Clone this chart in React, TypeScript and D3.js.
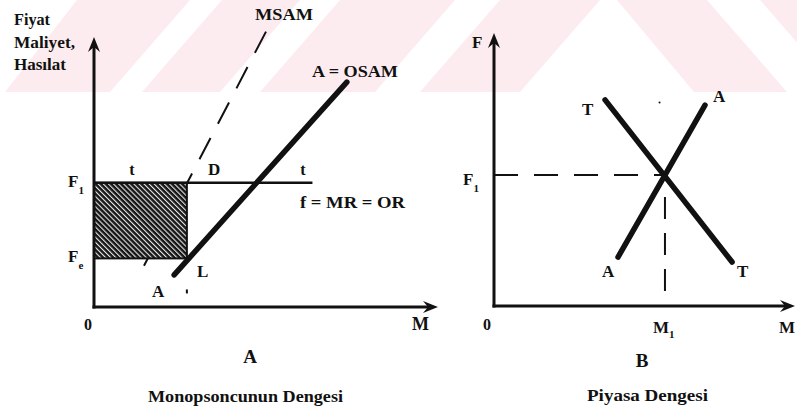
import React from "react";
import * as d3 from "d3";

// ---------- data (domain units 0..100 on each panel) ----------
// Panel A: Monopsoncunun Dengesi
const panelAPrices = [46, 18]; // F1, Fe
const panelAPriceLabels = ["1", "e"];
const panelAQuantity = [27]; // right edge of shaded area
const panelAWageLineEnd = [63.5]; // f = MR = OR horizontal end
const msamLine: [number, number][] = [
  [13.8, 13.5],
  [50, 102],
];
const osamLine: [number, number][] = [
  [23.3, 11.9],
  [73.5, 83.3],
];
// Panel B: Piyasa Dengesi
const demandLine: [number, number][] = [
  [36.9, 75.5],
  [79.1, 16.1],
];
const supplyLine: [number, number][] = [
  [41.2, 17.9],
  [70.1, 73.6],
];
const equilibriumB = [56.8, 48]; // M1, F1
const yAxisTitle = ["Fiyat", "Maliyet,", "Hasılat"];
const captions = ["Monopsoncunun Dengesi", "Piyasa Dengesi"];

const W = 797;
const H = 411;
const FONT = "'Liberation Serif', 'Times New Roman', serif";
const INK = "#111";

const xA = d3.scaleLinear().domain([0, 100]).range([94, 438]);
const yA = d3.scaleLinear().domain([0, 100]).range([307, 37]);
const xB = d3.scaleLinear().domain([0, 100]).range([494, 795]);
const yB = d3.scaleLinear().domain([0, 100]).range([306, 33]);

function arrowUp(x: number, y: number) {
  return `M${x},${y} L${x - 6},${y + 15} L${x},${y + 10} L${x + 6},${y + 15} Z`;
}
function arrowRight(x: number, y: number) {
  return `M${x},${y} L${x - 15},${y - 6} L${x - 10},${y} L${x - 15},${y + 6} Z`;
}

// watermark stripes (background decoration)
const wmTop = 92;
const wmWhite: [number, number, number, number][] = [
  // topLeft, topRight, bottomLeft, bottomRight
  [-10, 77, -90, 5],
  [190, 222, 110, 142],
  [300, 340, 220, 260],
  [455, 500, 375, 420],
  [600, 617, 520, 694],
  [707, 760, 787, 840],
];

export default function App() {
  const lineA = d3
    .line<[number, number]>()
    .x((d) => xA(d[0]))
    .y((d) => yA(d[1]));
  const lineB = d3
    .line<[number, number]>()
    .x((d) => xB(d[0]))
    .y((d) => yB(d[1]));

  const [f1, fe] = panelAPrices;
  const q = panelAQuantity[0];
  const [m1, pf1] = equilibriumB;

  const txt = (
    x: number,
    y: number,
    s: string,
    size = 17,
    anchor: "start" | "middle" | "end" = "start",
    len?: number
  ) => (
    <text
      x={x}
      y={y}
      fontFamily={FONT}
      fontWeight="bold"
      fontSize={size}
      fill={INK}
      textAnchor={anchor}
      {...(len ? { textLength: len, lengthAdjust: "spacingAndGlyphs" } : {})}
    >
      {s}
    </text>
  );

  return (
    <svg
      width={W}
      height={H}
      viewBox={`0 0 ${W} ${H}`}
      style={{ position: "absolute", left: 0, top: 0, background: "#fff" }}
    >
      <defs>
        <pattern
          id="hatch"
          width="3.6"
          height="3.6"
          patternUnits="userSpaceOnUse"
          patternTransform="rotate(-45)"
        >
          <rect width="3.6" height="3.6" fill="#161616" />
          <rect x="0" y="0" width="1.1" height="3.6" fill="#e8e8e8" />
        </pattern>
      </defs>

      {/* watermark */}
      <rect x={0} y={0} width={W} height={wmTop} fill="#fdecef" />
      {wmWhite.map((g, i) => (
        <polygon
          key={i}
          points={`${g[0]},0 ${g[1]},0 ${g[3]},${wmTop} ${g[2]},${wmTop}`}
          fill="#fff"
        />
      ))}

      {/* ---------- Panel A ---------- */}
      {/* MSAM dashed */}
      <path
        d={lineA([msamLine[1], msamLine[0]]) || ""}
        stroke={INK}
        strokeWidth={2}
        strokeDasharray="24 16"
        fill="none"
      />
      {/* shaded rectangle */}
      <rect
        x={xA(0)}
        y={yA(f1)}
        width={xA(q) - xA(0)}
        height={yA(fe) - yA(f1)}
        fill="url(#hatch)"
        stroke={INK}
        strokeWidth={2}
      />
      {/* f = MR = OR line */}
      <line
        x1={xA(0)}
        x2={xA(panelAWageLineEnd[0])}
        y1={yA(f1)}
        y2={yA(f1)}
        stroke={INK}
        strokeWidth={2.5}
      />
      {/* OSAM */}
      <path
        d={lineA(osamLine) || ""}
        stroke={INK}
        strokeWidth={5.5}
        strokeLinecap="round"
        fill="none"
      />
      {/* small mark under L */}
      <rect x={xA(q) - 1} y={yA(6.5)} width={2} height={4} fill={INK} />
      {/* axes */}
      <line x1={xA(0)} x2={xA(0)} y1={yA(0) + 1.5} y2={yA(100) + 6} stroke={INK} strokeWidth={3} />
      <path d={arrowUp(xA(0), yA(100))} fill={INK} />
      <line x1={xA(0) - 1.5} x2={xA(100) - 6} y1={yA(0)} y2={yA(0)} stroke={INK} strokeWidth={3} />
      <path d={arrowRight(xA(100), yA(0))} fill={INK} />

      {/* Panel A labels */}
      {yAxisTitle.map((s, i) =>
        <React.Fragment key={s}>{txt(14, 25 + i * 22.5, s, 16, "start", [36, 61, 52][i])}</React.Fragment>
      )}
      {txt(255, 20, "MSAM", 17, "start", 58)}
      {txt(312, 77, "A = OSAM", 16, "start", 86)}
      {txt(300, 208, "f = MR = OR", 16, "start", 105)}
      {txt(132, 175, "t", 16, "middle")}
      {txt(303, 175, "t", 16, "middle")}
      {txt(208, 175, "D", 17)}
      {txt(197, 277, "L", 17)}
      {txt(152, 297, "A", 17)}
      {panelAPrices.map((p, i) => (
        <text
          key={i}
          x={68}
          y={yA(p) + 4}
          fontFamily={FONT}
          fontWeight="bold"
          fontSize={17}
          fill={INK}
        >
          F
          <tspan fontSize={11} dy={7}>
            {panelAPriceLabels[i]}
          </tspan>
        </text>
      ))}
      {txt(84, 330, "0", 16)}
      {txt(412, 330, "M", 18)}
      {txt(250, 363, "A", 19, "middle")}
      {txt(148, 402, captions[0], 17, "start", 195)}

      {/* ---------- Panel B ---------- */}
      <line
        x1={xB(0)}
        x2={xB(m1)}
        y1={yB(pf1)}
        y2={yB(pf1)}
        stroke={INK}
        strokeWidth={2}
        strokeDasharray="24 16"
      />
      <line
        x1={xB(m1)}
        x2={xB(m1)}
        y1={yB(pf1) + 22}
        y2={yB(0)}
        stroke={INK}
        strokeWidth={2}
        strokeDasharray="22 14"
      />
      <path d={lineB(demandLine) || ""} stroke={INK} strokeWidth={5.5} strokeLinecap="round" fill="none" />
      <path d={lineB(supplyLine) || ""} stroke={INK} strokeWidth={5.5} strokeLinecap="round" fill="none" />
      <circle cx={xB(55)} cy={yB(74.5)} r={1} fill={INK} />
      <line x1={xB(0)} x2={xB(0)} y1={yB(0) + 1.5} y2={yB(100) + 6} stroke={INK} strokeWidth={3} />
      <path d={arrowUp(xB(0), yB(100))} fill={INK} />
      <line x1={xB(0) - 1.5} x2={xB(100) - 6} y1={yB(0)} y2={yB(0)} stroke={INK} strokeWidth={3} />
      <path d={arrowRight(xB(100), yB(0))} fill={INK} />

      {txt(472, 48, "F", 17)}
      <text x={463} y={yB(pf1) + 10} fontFamily={FONT} fontWeight="bold" fontSize={17} fill={INK}>
        F<tspan fontSize={11} dy={7}>1</tspan>
      </text>
      {txt(582, 115, "T", 17)}
      {txt(713, 102, "A", 17)}
      {txt(602, 277, "A", 17)}
      {txt(737, 277, "T", 17)}
      {txt(483, 330, "0", 16)}
      <text x={653} y={333} fontFamily={FONT} fontWeight="bold" fontSize={17} fill={INK}>
        M<tspan fontSize={11} dy={5}>1</tspan>
      </text>
      {txt(779, 333, "M", 17)}
      {txt(642, 367, "B", 19, "middle")}
      {txt(587, 401, captions[1], 17, "start", 121)}
    </svg>
  );
}
